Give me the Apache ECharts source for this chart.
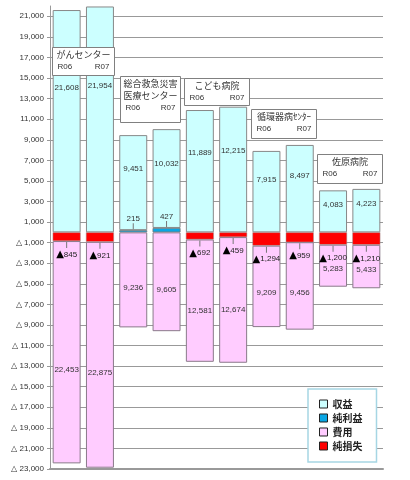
<!DOCTYPE html>
<html>
<head>
<meta charset="utf-8">
<script src="https://cdn.jsdelivr.net/npm/echarts@6/dist/echarts.min.js"></script>
<style>
  html, body { margin: 0; padding: 0; background: #fff; }
  #chart { width: 410px; height: 480px; }
</style>
</head>
<body>
<div id="chart"></div>
<script>
// 病院別 収益・費用 (R06 / R07)
var hospitalNames = [["がんセンター"], ["総合救急災害", "医療センター"], ["こども病院"], ["循環器病ｾﾝﾀｰ"], ["佐原病院"]];
var years = ["R06", "R07"];
var categories = [
  "がんセンター R06", "がんセンター R07",
  "総合救急災害医療センター R06", "総合救急災害医療センター R07",
  "こども病院 R06", "こども病院 R07",
  "循環器病センター R06", "循環器病センター R07",
  "佐原病院 R06", "佐原病院 R07"
];
var revenue = [21608, 21954, 9451, 10032, 11889, 12215, 7915, 8497, 4083, 4223];
var expense = [22453, 22875, 9236, 9605, 12581, 12674, 9209, 9456, 5283, 5433];
var netProfit = [0, 0, 215, 427, 0, 0, 0, 0, 0, 0];
var netLoss = [845, 921, 0, 0, 692, 459, 1294, 959, 1200, 1210];
var yTicks = [21000, 19000, 17000, 15000, 13000, 11000, 9000, 7000, 5000, 3000, 1000,
  -1000, -3000, -5000, -7000, -9000, -11000, -13000, -15000, -17000, -19000, -21000, -23000];

// 名札の配置 (px)
var boxTop = [47, 76, 78, 109, 154];
var boxHeight = [28, 46, 27, 29, 29];
var boxWidth = [62, 60, 65, 65, 65];

var NUM_FONT = "Liberation Sans";
var JP_FONT = "Noto Sans CJK JP";

function fmt(v) {
  return String(v).replace(/\B(?=(\d{3})+(?!\d))/g, ",");
}

// 積み上げ用のデータ
var blueData = netProfit.map(function (v) { return v > 0 ? v : null; });
var cyanData = revenue.map(function (v, i) { return v - netProfit[i]; });
var redData = netLoss.map(function (v) { return v > 0 ? -v : null; });
var pinkData = expense.map(function (v, i) { return -(v - netLoss[i]); });

var chart = echarts.init(document.getElementById("chart"));

var option = {
  animation: false,
  grid: { left: 50, right: 27, top: 6, bottom: 11 },
  legend: {
    data: ["収益", "純利益", "費用", "純損失"],
    orient: "vertical",
    left: 308,
    top: 389,
    padding: [10, 14, 11, 11],
    itemWidth: 8,
    itemHeight: 8,
    itemGap: 4,
    icon: "rect",
    backgroundColor: "#fff",
    borderColor: "#a6d6e4",
    borderWidth: 1.5,
    itemStyle: { borderColor: "#222", borderWidth: 1 },
    textStyle: { fontSize: 10, fontWeight: "bold", color: "#222", fontFamily: JP_FONT, lineHeight: 8 }
  },
  xAxis: {
    type: "category",
    data: categories,
    axisLine: { onZero: false, lineStyle: { color: "#999", width: 2 } },
    axisTick: { show: false },
    axisLabel: { show: false },
    splitLine: { show: false }
  },
  yAxis: {
    type: "value",
    min: -23000,
    max: 22000,
    axisLine: { show: true, lineStyle: { color: "#999" } },
    axisTick: { show: true, length: 3, customValues: yTicks, lineStyle: { color: "#999" } },
    axisLabel: {
      customValues: yTicks,
      fontSize: 8,
      color: "#333",
      fontFamily: NUM_FONT,
      margin: 6,
      formatter: function (v) {
        return v >= 0 ? fmt(v) : "△ " + fmt(-v);
      }
    },
    splitLine: { show: true, lineStyle: { color: "#999", width: 1 } }
  },
  series: [
    {
      name: "純利益",
      type: "bar",
      stack: "total",
      barCategoryGap: "16%",
      data: blueData,
      itemStyle: { color: "#0aa6e4", borderColor: "#777", borderWidth: 0.8 },
      label: {
        show: true,
        position: "top",
        distance: 1,
        formatter: function (p) {
          return p.value ? "{n|" + fmt(p.value) + "}\n{l| }" : "";
        },
        rich: {
          n: { fontSize: 8, color: "#333", fontFamily: NUM_FONT, lineHeight: 9 },
          l: { width: 1, height: 6, lineHeight: 6, backgroundColor: "#777" }
        }
      }
    },
    {
      name: "収益",
      type: "bar",
      stack: "total",
      data: cyanData,
      itemStyle: { color: "#ccffff", borderColor: "#888", borderWidth: 1 },
      label: {
        show: true,
        position: ["50%", "35%"],
        align: "center",
        verticalAlign: "middle",
        fontSize: 8,
        color: "#333",
        fontFamily: NUM_FONT,
        formatter: function (p) { return fmt(revenue[p.dataIndex]); }
      }
    },
    {
      name: "純損失",
      type: "bar",
      stack: "total",
      data: redData,
      itemStyle: { color: "#ff0000", borderColor: "#999", borderWidth: 0.5 },
      label: {
        show: true,
        position: "bottom",
        distance: 1,
        formatter: function (p) {
          return p.value ? "{l| }\n{t|▲}{n|" + fmt(-p.value) + "}" : "";
        },
        rich: {
          t: { fontSize: 10, color: "#000", fontFamily: "DejaVu Sans", lineHeight: 13 },
          n: { fontSize: 8, color: "#222", fontFamily: NUM_FONT, lineHeight: 13 },
          l: { width: 1, height: 6, lineHeight: 6, backgroundColor: "#777" }
        }
      }
    },
    {
      name: "費用",
      type: "bar",
      stack: "total",
      data: pinkData,
      itemStyle: { color: "#ffccff", borderColor: "#8a7a8a", borderWidth: 1 },
      label: {
        show: true,
        position: ["50%", "58%"],
        align: "center",
        verticalAlign: "middle",
        fontSize: 8,
        color: "#333",
        fontFamily: NUM_FONT,
        formatter: function (p) { return fmt(expense[p.dataIndex]); }
      }
    }
  ]
};

chart.setOption(option);

// 病院名の札
var graphics = hospitalNames.map(function (lines, i) {
  var x0 = chart.convertToPixel({ xAxisIndex: 0 }, categories[2 * i]);
  var x1 = chart.convertToPixel({ xAxisIndex: 0 }, categories[2 * i + 1]);
  var w = boxWidth[i];
  var h = boxHeight[i];
  var children = [
    {
      type: "rect",
      z: 100,
      shape: { x: 0, y: 0, width: w, height: h },
      style: { fill: "#fff", stroke: "#808080", lineWidth: 1 }
    }
  ];
  lines.forEach(function (t, k) {
    children.push({
      type: "text",
      z: 101,
      x: w / 2,
      y: 7 + 12 * k,
      style: { text: t, fontSize: 9, fill: "#333", fontFamily: JP_FONT, align: "center", verticalAlign: "middle" }
    });
  });
  var yRow = 7 + 12 * lines.length;
  children.push({
    type: "text", z: 101, x: 5, y: yRow,
    style: { text: years[0], fontSize: 8, fill: "#333", fontFamily: NUM_FONT, align: "left", verticalAlign: "middle" }
  });
  children.push({
    type: "text", z: 101, x: w - 5, y: yRow,
    style: { text: years[1], fontSize: 8, fill: "#333", fontFamily: NUM_FONT, align: "right", verticalAlign: "middle" }
  });
  return {
    type: "group",
    x: Math.round((x0 + x1) / 2 - w / 2) + 0.5,
    y: boxTop[i] + 0.5,
    z: 100,
    children: children
  };
});

chart.setOption({ graphic: graphics });

window.addEventListener("resize", function () {
  chart.resize();
});
</script>
</body>
</html>
